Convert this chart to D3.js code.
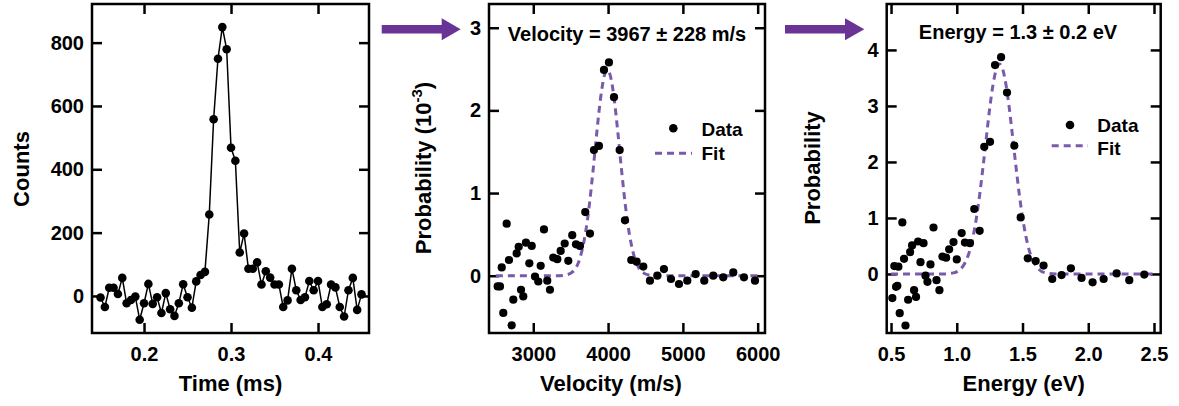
<!DOCTYPE html>
<html>
<head>
<meta charset="utf-8">
<script src="https://cdn.jsdelivr.net/npm/d3@7/dist/d3.min.js"></script>
<style>
  html, body { margin: 0; padding: 0; background: #fff; }
  svg { display: block; }
  text { font-family: "Liberation Sans", Arial, sans-serif; font-weight: bold; fill: #000; }
</style>
</head>
<body>
<svg id="chart" width="1179" height="406"></svg>
<script>
// ---------- Panel 1: time-of-flight counts ----------
const tofTime = [0.150,0.155,0.160,0.165,0.170,0.175,0.180,0.185,0.190,0.195,
  0.200,0.205,0.210,0.215,0.220,0.225,0.230,0.235,0.240,0.245,
  0.250,0.255,0.260,0.265,0.270,0.275,0.280,0.285,0.290,0.295,
  0.300,0.305,0.310,0.315,0.320,0.325,0.330,0.335,0.340,0.345,
  0.350,0.355,0.360,0.365,0.370,0.375,0.380,0.385,0.390,0.395,
  0.400,0.405,0.410,0.415,0.420,0.425,0.430,0.435,0.440,0.445,0.450];
const tofCounts = [-5,-35,26,26,6,57,-23,-13,-2,-75,
  -23,38,-25,-4,-54,9,-42,-63,-23,37,
  -4,-37,46,66,76,257,558,749,849,779,
  468,427,137,197,86,86,106,36,78,58,
  36,36,-35,-14,86,18,-13,-4,47,18,
  47,-35,-26,36,27,-35,-65,18,57,-44,5];
const tofXTicks = [0.2, 0.3, 0.4];
const tofYTicks = [0, 200, 400, 600, 800];

// ---------- Panel 2: velocity distribution ----------
const velData = [2524,2555,2578,2599,2644,2675,2711,2733,2778,2805,
  2836,2866,2902,2947,2979,3023,3067,3099,3143,3187,
  3223,3267,3321,3366,3420,3468,3521,3571,3624,3695,
  3758,3811,3878,3945,4012,4079,4155,4226,4310,4382,
  4471,4560,4658,4747,4841,4948,5059,5171,5286,5406,
  5540,5674,5817,5964];
const velProb = [-0.13,-0.13,0.10,-0.45,0.63,0.19,-0.60,-0.29,0.27,0.35,
  -0.17,-0.25,0.40,0.15,0.36,-0.01,-0.07,0.12,0.56,-0.06,
  -0.17,0.22,0.20,0.30,0.39,0.18,0.49,0.38,0.36,0.77,
  0.51,1.52,1.57,2.49,2.58,2.16,1.52,0.67,0.19,0.17,
  0.11,-0.06,0.00,0.08,-0.04,-0.10,-0.06,0.02,-0.06,0.00,
  -0.02,0.04,-0.02,-0.06];
const velFitX = [2500,3300,3400,3450,3500,3550,3600,3650,3700,3750,3800,3850,3900,3950,3990,
  4030,4080,4130,4180,4230,4280,4330,4380,4430,4480,4530,4580,4700,6000];
const velFitY = [0,0,0.004,0.012,0.03,0.07,0.15,0.30,0.53,0.86,1.28,1.74,2.15,2.42,2.49,
  2.42,2.15,1.74,1.28,0.86,0.53,0.30,0.15,0.07,0.03,0.012,0.004,0,0];
const velXTicks = [3000, 4000, 5000, 6000];
const velYTicks = [0, 1, 2, 3];

// ---------- Panel 3: energy distribution ----------
const enData = [0.510,0.525,0.556,0.538,0.548,0.566,0.586,0.599,0.610,0.630,
  0.645,0.660,0.675,0.690,0.706,0.724,0.747,0.762,0.777,0.800,
  0.823,0.846,0.868,0.891,0.919,0.942,0.975,1.000,1.037,1.062,
  1.100,1.133,1.174,1.209,1.253,1.291,1.337,1.382,1.438,1.486,
  1.540,1.600,1.660,1.726,1.797,1.868,1.949,2.033,2.117,2.216,
  2.312,2.426];
const enProb = [-0.43,0.14,0.13,-0.23,-0.21,-0.70,0.92,0.27,-0.92,-0.46,
  0.39,0.51,-0.29,-0.41,0.58,0.21,0.55,-0.03,-0.14,0.17,
  0.83,-0.11,-0.29,0.31,0.29,0.44,0.57,0.26,0.73,0.56,
  0.55,1.16,0.77,2.27,2.36,3.73,3.87,3.24,2.29,1.01,
  0.28,0.23,0.15,-0.09,-0.02,0.10,-0.07,-0.15,-0.09,0.01,
  -0.11,-0.01];
const enFitX = [0.50,0.90,0.975,1.025,1.05,1.075,1.10,1.125,1.15,1.175,1.20,1.225,1.25,1.275,1.30,1.325,
  1.35,1.375,1.40,1.425,1.45,1.475,1.50,1.525,1.55,1.575,1.60,1.625,1.675,1.75,2.52];
const enFitY = [0,0,0.02,0.08,0.15,0.26,0.43,0.68,1.01,1.43,1.92,2.44,2.95,3.37,3.65,3.75,
  3.65,3.37,2.95,2.44,1.92,1.43,1.01,0.68,0.43,0.26,0.15,0.08,0.02,0,0];
const enXTicks = [0.5, 1.0, 1.5, 2.0, 2.5];
const enYTicks = [0, 1, 2, 3, 4];

const legendLabels = ["Data", "Fit"];

// ---------- drawing ----------
const svg = d3.select("#chart");
const FIT_COLOR = "#7a5aab";
const ARROW_COLOR = "#6a3396";
const TOP = 4, BOTTOM = 333;

function panel(opts) {
  const x = d3.scaleLinear().domain(opts.xDomain).range([opts.left, opts.right]);
  const y = d3.scaleLinear().domain(opts.yDomain).range([BOTTOM, TOP]);
  const g = svg.append("g");

  const clipId = "clip" + opts.id;
  svg.append("clipPath").attr("id", clipId).append("rect")
    .attr("x", opts.left).attr("y", TOP).attr("width", opts.right - opts.left).attr("height", BOTTOM - TOP);

  const ax = (gen, tx, ty, labels) => {
    const a = g.append("g").attr("transform", `translate(${tx},${ty})`).call(gen);
    a.select(".domain").remove();
    a.selectAll(".tick line").attr("stroke", "#000").attr("stroke-width", 2.5);
    if (!labels) a.selectAll(".tick text").remove();
    else a.selectAll(".tick text").attr("font-size", 20).attr("fill", "#000")
      .attr("font-family", "'Liberation Sans', Arial, sans-serif").attr("font-weight", "bold");
    return a;
  };
  ax(d3.axisBottom(x).tickValues(opts.xTicks).tickSize(-10).tickPadding(14).tickFormat(opts.xFmt), 0, BOTTOM, true);
  ax(d3.axisTop(x).tickValues(opts.xTicks).tickSize(-10), 0, TOP, false);
  ax(d3.axisLeft(y).tickValues(opts.yTicks).tickSize(-10).tickPadding(8).tickFormat(opts.yFmt), opts.left, 0, true);
  ax(d3.axisRight(y).tickValues(opts.yTicks).tickSize(-10), opts.right, 0, false);

  const plot = g.append("g").attr("clip-path", `url(#${clipId})`);

  if (opts.fitX) {
    const fit = opts.fitX.map((d, i) => [d, opts.fitY[i]]);
    plot.append("path").datum(fit)
      .attr("fill", "none").attr("stroke", FIT_COLOR).attr("stroke-width", 3)
      .attr("stroke-dasharray", "7,5")
      .attr("d", d3.line().curve(d3.curveMonotoneX).x(d => x(d[0])).y(d => y(d[1])));
  }
  const pts = opts.dataX.map((d, i) => [d, opts.dataY[i]]);
  if (opts.connect) {
    plot.append("path").datum(pts)
      .attr("fill", "none").attr("stroke", "#000").attr("stroke-width", 1.5)
      .attr("d", d3.line().x(d => x(d[0])).y(d => y(d[1])));
  }
  plot.selectAll("circle.pt").data(pts).enter().append("circle")
    .attr("class", "pt").attr("cx", d => x(d[0])).attr("cy", d => y(d[1]))
    .attr("r", opts.r).attr("fill", "#000");

  g.append("rect").attr("x", opts.left).attr("y", TOP)
    .attr("width", opts.right - opts.left).attr("height", BOTTOM - TOP)
    .attr("fill", "none").attr("stroke", "#000").attr("stroke-width", 2.5);

  g.append("text").attr("x", opts.titleX).attr("y", 391)
    .attr("text-anchor", "middle").attr("font-size", 22).text(opts.xTitle);
  return { x, y, g };
}

// Panel 1
panel({
  id: 1, left: 92, right: 369, xDomain: [0.1402, 0.4586], yDomain: [-117, 922],
  xTicks: tofXTicks, yTicks: tofYTicks, xFmt: d3.format(".1f"), yFmt: d3.format("d"),
  dataX: tofTime, dataY: tofCounts, connect: true, r: 4.3, xTitle: "Time (ms)", titleX: 230.5
});
svg.append("text").attr("transform", "translate(28.5,169) rotate(-90)")
  .attr("text-anchor", "middle").attr("font-size", 22).text("Counts");

// Panel 2
panel({
  id: 2, left: 489, right: 765, xDomain: [2408, 6098], yDomain: [-0.693, 3.287],
  xTicks: velXTicks, yTicks: velYTicks, xFmt: d3.format("d"), yFmt: d3.format("d"),
  dataX: velData, dataY: velProb, fitX: velFitX, fitY: velFitY, r: 4.1, xTitle: "Velocity (m/s)", titleX: 611
});
const t2 = svg.append("text").attr("transform", "translate(430.5,168) rotate(-90)")
  .attr("text-anchor", "middle").attr("font-size", 22);
t2.append("tspan").text("Probability (10");
t2.append("tspan").attr("dy", -9).attr("font-size", 15).text("-3");
t2.append("tspan").attr("dy", 9).text(")");
svg.append("text").attr("x", 627).attr("y", 41).attr("text-anchor", "middle")
  .attr("font-size", 20).text("Velocity = 3967 \u00B1 228 m/s");

// Panel 3
panel({
  id: 3, left: 886.7, right: 1160.7, xDomain: [0.467, 2.551], yDomain: [-1.054, 4.82],
  xTicks: enXTicks, yTicks: enYTicks, xFmt: d3.format(".1f"), yFmt: d3.format("d"),
  dataX: enData, dataY: enProb, fitX: enFitX, fitY: enFitY, r: 4.1, xTitle: "Energy (eV)", titleX: 1023.7
});
svg.append("text").attr("transform", "translate(819.5,168) rotate(-90)")
  .attr("text-anchor", "middle").attr("font-size", 22).text("Probability");
svg.append("text").attr("x", 1018).attr("y", 38.5).attr("text-anchor", "middle")
  .attr("font-size", 20).text("Energy = 1.3 \u00B1 0.2 eV");

// Legends
function legend(dotX, dotY, dashX0, dashX1, dashY, textX, dataBase, fitBase) {
  svg.append("circle").attr("cx", dotX).attr("cy", dotY).attr("r", 4.3).attr("fill", "#000");
  svg.append("line").attr("x1", dashX0).attr("x2", dashX1).attr("y1", dashY).attr("y2", dashY)
    .attr("stroke", FIT_COLOR).attr("stroke-width", 3).attr("stroke-dasharray", "7,5");
  svg.append("text").attr("x", textX).attr("y", dataBase).attr("font-size", 19).text(legendLabels[0]);
  svg.append("text").attr("x", textX).attr("y", fitBase).attr("font-size", 19).text(legendLabels[1]);
}
legend(673.3, 128.3, 655, 692, 153.3, 701.5, 135.7, 159.5);
legend(1070, 125, 1051.7, 1088, 145.7, 1097.3, 131.7, 155);

// Arrows
function arrow(x0, xs, xt, yc) {
  const p = d3.path();
  p.moveTo(x0, yc - 4.2); p.lineTo(xs, yc - 4.2); p.lineTo(xs, yc - 11);
  p.lineTo(xt, yc); p.lineTo(xs, yc + 11); p.lineTo(xs, yc + 4.2); p.lineTo(x0, yc + 4.2);
  p.closePath();
  svg.append("path").attr("d", p.toString()).attr("fill", ARROW_COLOR);
}
arrow(381.7, 441.7, 460.7, 29.2);
arrow(785, 845, 864.3, 29.3);
</script>
</body>
</html>
